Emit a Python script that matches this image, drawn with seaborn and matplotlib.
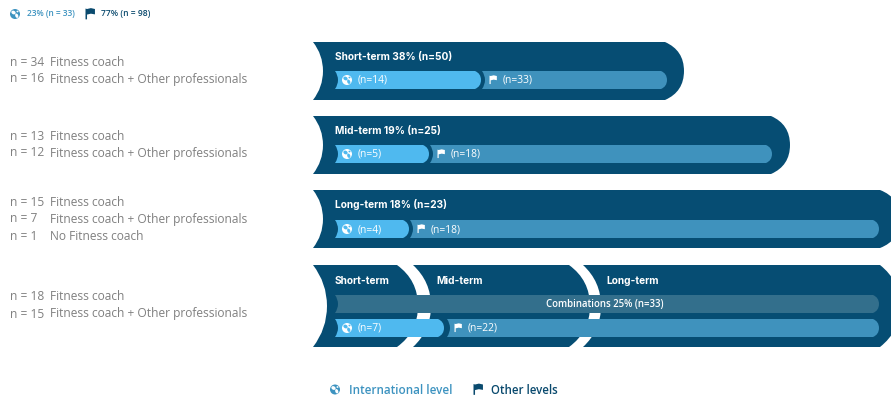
import matplotlib
matplotlib.use("Agg")
import math
import matplotlib.pyplot as plt
import seaborn as sns
from matplotlib.patches import Circle, Ellipse, PathPatch, Polygon
from matplotlib.path import Path

# ---- data ----
band_titles = ["Short-term 38% (n=50)", "Mid-term 19% (n=25)", "Long-term 18% (n=23)"]
band_lengths = [371, 477, 587]
intl_labels = ["(n=14)", "(n=5)", "(n=4)", "(n=7)"]
intl_lengths = [146, 94, 74, 109]
other_labels = ["(n=33)", "(n=18)", "(n=18)", "(n=22)"]
other_lengths = [185, 342, 469, 432]
combo_names = ["Short-term", "Mid-term", "Long-term"]
combo_starts = [0, 100, 270]
combo_ends = [105, 277, 587]
combo_label = "Combinations 25% (n=33)"
combo_bar_length = 544
left_notes = [
    [("n = 34", "Fitness coach"), ("n = 16", "Fitness coach + Other professionals")],
    [("n = 13", "Fitness coach"), ("n = 12", "Fitness coach + Other professionals")],
    [("n = 15", "Fitness coach"), ("n = 7", "Fitness coach + Other professionals"), ("n = 1", "No Fitness coach")],
    [("n = 18", "Fitness coach"), ("n = 15", "Fitness coach + Other professionals")],
]
top_legend = ["23% (n = 33)", "77% (n = 98)"]
bottom_legend = ["International level", "Other levels"]

# ---- palette and layout ----
NAVY = "#064d73"
SKY = "#4fb9ef"
STEEL = "#3f92bd"
SLATE = "#336f8c"
GREY = "#808080"
LEGEND_BLUE = "#3d93c0"
LEGEND_NAVY = "#0a4a6e"
ORIGIN = 313
INNER = 22
band_rows = [(71, 58), (145, 58), (219, 58)]
combo_row = (306, 82)
intl_rows = [80, 154, 229, 328]
notes_y = [62, 136, 202, 297]

sns.set_theme(style="white")
plt.rcParams["font.family"] = ["Open Sans", "DejaVu Sans"]
fig = plt.figure(figsize=(8.91, 3.99), dpi=100)
ax = fig.add_axes([0, 0, 1, 1])


def arc_offset(height, sagitta):
    """Vertical distance from the middle of a circular end to its Bezier control point."""
    radius = (height ** 2 / 4 + sagitta ** 2) / (2 * sagitta)
    theta = math.asin(min(1, height / 2 / radius))
    return radius * math.tan(theta / 2)


def shaped_bar(start, end, centre, height, color, notch, bulge, zorder):
    """Draw one bar through seaborn, then give it curved ends."""
    before = len(ax.patches)
    sns.barplot(x=[end], y=[centre], orient="y", native_scale=True, width=height,
                color=color, saturation=1, errorbar=None, ax=ax)
    rect = ax.patches[before]
    stop = rect.get_width()
    top, bottom = rect.get_y(), rect.get_y() + rect.get_height()
    mid = (top + bottom) / 2
    rect.remove()
    dr = arc_offset(height, bulge)
    dl = arc_offset(height, notch)
    verts = [(start, top), (stop - bulge, top),
             (stop, mid - dr), (stop, mid), (stop, mid + dr), (stop - bulge, bottom),
             (start, bottom),
             (start + notch, mid + dl), (start + notch, mid), (start + notch, mid - dl), (start, top),
             (start, top)]
    codes = [Path.MOVETO, Path.LINETO,
             Path.CURVE3, Path.CURVE3, Path.CURVE3, Path.CURVE3,
             Path.LINETO,
             Path.CURVE3, Path.CURVE3, Path.CURVE3, Path.CURVE3,
             Path.CLOSEPOLY]
    ax.add_patch(PathPatch(Path(verts, codes), facecolor=color, edgecolor="none", zorder=zorder))


def globe(x, y, r, color, land):
    ax.add_patch(Circle((x, y), r, facecolor=color, edgecolor="none", zorder=6))
    ax.add_patch(Ellipse((x - 0.3 * r, y - 0.3 * r), 0.9 * r, 0.7 * r, angle=30, facecolor=land, edgecolor="none", zorder=7))
    ax.add_patch(Ellipse((x + 0.35 * r, y + 0.35 * r), 0.6 * r, 0.9 * r, angle=-20, facecolor=land, edgecolor="none", zorder=7))
    ax.add_patch(Ellipse((x + 0.5 * r, y - 0.5 * r), 0.4 * r, 0.35 * r, facecolor=land, edgecolor="none", zorder=7))


def flag(x, y, s, color):
    ax.add_patch(Polygon([(x - 0.5 * s, y - 0.55 * s), (x - 0.5 * s, y + 0.65 * s), (x - 0.33 * s, y + 0.65 * s),
                          (x - 0.33 * s, y + 0.12 * s), (x + 0.1 * s, y + 0.02 * s), (x + 0.55 * s, y + 0.1 * s),
                          (x + 0.55 * s, y - 0.5 * s), (x + 0.1 * s, y - 0.6 * s), (x - 0.33 * s, y - 0.5 * s)],
                         closed=True, facecolor=color, edgecolor="none", zorder=6))


title_font = dict(family=["Inter", "DejaVu Sans"], fontweight="bold", color="white", va="center", zorder=8)
small_font = dict(color="white", va="center", fontsize=7.4, zorder=8)

# outer bands
for (centre, height), length, title in zip(band_rows, band_lengths, band_titles):
    shaped_bar(0, length, centre, height, NAVY, 10, 19 if length < 500 else 20, 1)
    ax.text(INNER, centre - 14, title, fontsize=7.3, **title_font)

# the combinations row is built from three overlapping bands
for name, start, end in zip(combo_names, combo_starts, combo_ends):
    shaped_bar(start, end, combo_row[0], combo_row[1], NAVY, 14 if start == 0 else 18, 21 if end < 500 else 20, 1)
    ax.text(start + 22 + (1 if start else 0), 281, name, fontsize=7.3, **title_font)

shaped_bar(INNER, INNER + combo_bar_length, 304, 18, SLATE, 3, 6, 3)
ax.text(292, 304.5, combo_label, ha="center", fontweight="semibold", color="white", va="center", fontsize=6.9, zorder=8)

# international and other-level bars
for y, il, ol, ilabel, olabel in zip(intl_rows, intl_lengths, other_lengths, intl_labels, other_labels):
    stop = INNER + il
    other_start = stop + (3 if il == 109 else 1)
    shaped_bar(other_start, other_start + ol, y, 18, STEEL, 3, 6, 3)
    shaped_bar(INNER, stop, y, 18, SKY, 3, 6, 4)
    globe(INNER + 12, y, 5, "white", SKY)
    ax.text(INNER + 23, y + 0.5, ilabel, **small_font)
    flag(other_start + 11, y - 0.5, 7, "white")
    ax.text(other_start + 21, y + 0.5, olabel, **small_font)

# notes on the left, top legend and bottom legend
for y0, lines in zip(notes_y, left_notes):
    for i, (count, who) in enumerate(lines):
        y = y0 + 17 * i
        ax.text(10 - ORIGIN, y, count, color=GREY, fontsize=8.65, va="center")
        ax.text(50 - ORIGIN, y, who, color=GREY, fontsize=8.65, va="center")

globe(15 - ORIGIN, 14, 5, LEGEND_BLUE, "white")
ax.text(27 - ORIGIN, 13.5, top_legend[0], color=LEGEND_BLUE, fontsize=6.0, fontweight="semibold", va="center")
flag(90 - ORIGIN, 13.5, 9, LEGEND_NAVY)
ax.text(101 - ORIGIN, 13.5, top_legend[1], color=LEGEND_NAVY, fontsize=6.1, fontweight="semibold", va="center")

globe(335 - ORIGIN, 389.5, 5, LEGEND_BLUE, "white")
ax.text(349 - ORIGIN, 390, bottom_legend[0], color=LEGEND_BLUE, fontsize=8.4, fontweight="semibold", va="center")
flag(478 - ORIGIN, 389, 9, LEGEND_NAVY)
ax.text(491 - ORIGIN, 390, bottom_legend[1], color=LEGEND_NAVY, fontsize=8.3, fontweight="semibold", va="center")

ax.set_xlim(-ORIGIN, 891 - ORIGIN)
ax.set_ylim(399, 0)
ax.axis("off")
fig.savefig("out.png", dpi=100, facecolor="white")
